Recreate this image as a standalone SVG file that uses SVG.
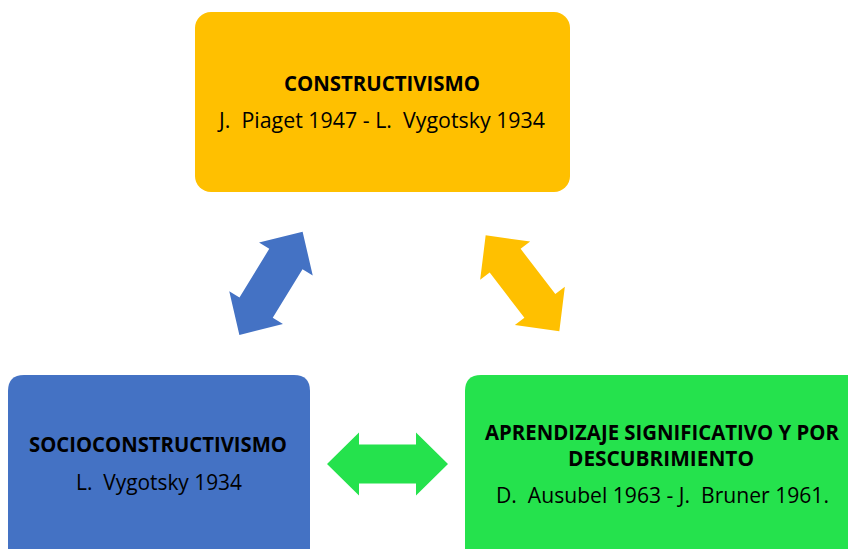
<svg xmlns="http://www.w3.org/2000/svg" width="848" height="549" viewBox="0 0 848 549">
<style>
.t{font-family:"Open Sans","Liberation Sans",sans-serif;font-size:21px;fill:#000;text-anchor:middle;white-space:pre}
.b{font-weight:bold}
</style>
<defs>
<path id="dbl" d="M-60.5,0 L-28.5,-31.5 L-28.5,-19.5 L28.5,-19.5 L28.5,-31.5 L60.5,0 L28.5,31.5 L28.5,19.5 L-28.5,19.5 L-28.5,31.5 Z"/>
</defs>
<rect width="848" height="549" fill="#fff"/>
<g id="connectors">
<use href="#dbl" fill="#4472C4" transform="translate(271,283.3) rotate(-58.5)"/>
<use href="#dbl" fill="#FFC000" transform="translate(522.5,283.3) rotate(52.5)"/>
<use href="#dbl" fill="#25E24D" transform="translate(387.5,464)"/>
</g>
<g id="constructivismo">
<rect x="195" y="12" width="375" height="180" rx="16" fill="#FFC000"/>
<text class="t b" x="382" y="91" textLength="196" lengthAdjust="spacingAndGlyphs">CONSTRUCTIVISMO</text>
<text class="t" x="382" y="128" textLength="326" lengthAdjust="spacingAndGlyphs" xml:space="preserve">J.  Piaget 1947 - L.  Vygotsky 1934</text>
</g>
<g id="socioconstructivismo">
<path d="M8,549 V391 Q8,375 24,375 H294 Q310,375 310,391 V549 Z" fill="#4472C4"/>
<text class="t b" x="158" y="452" textLength="258" lengthAdjust="spacingAndGlyphs">SOCIOCONSTRUCTIVISMO</text>
<text class="t" x="159" y="490" textLength="166" lengthAdjust="spacingAndGlyphs" xml:space="preserve">L.  Vygotsky 1934</text>
</g>
<g id="aprendizaje">
<path d="M465,549 V391 Q465,375 481,375 H848 V549 Z" fill="#25E24D"/>
<text class="t b" x="662" y="440" textLength="354" lengthAdjust="spacingAndGlyphs">APRENDIZAJE SIGNIFICATIVO Y POR</text>
<text class="t b" x="661" y="466" textLength="186" lengthAdjust="spacingAndGlyphs">DESCUBRIMIENTO</text>
<text class="t" x="662.5" y="503" textLength="333" lengthAdjust="spacingAndGlyphs" xml:space="preserve">D.  Ausubel 1963 - J.  Bruner 1961.</text>
</g>
</svg>
